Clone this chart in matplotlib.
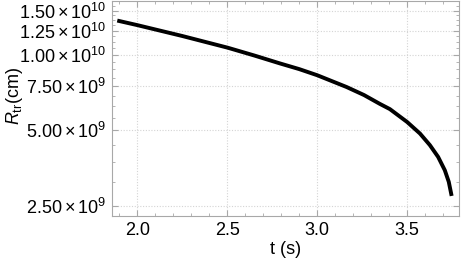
import numpy as np
import matplotlib.pyplot as plt
from matplotlib.ticker import FixedLocator, NullFormatter

plt.rcParams['font.family'] = ['Liberation Sans', 'DejaVu Sans']
plt.rcParams['mathtext.fontset'] = 'custom'
plt.rcParams['mathtext.rm'] = 'Liberation Sans'
plt.rcParams['mathtext.it'] = 'Liberation Sans:italic'

# values
t_vals = [1.889, 2.0, 2.25, 2.502, 2.65, 2.793, 2.9, 3.0, 3.163, 3.26, 3.348, 3.404, 3.5,
          3.571, 3.626, 3.672, 3.709, 3.731, 3.747]
r_vals = [1.371e10, 1.315e10, 1.19e10, 1.069e10, 9.95e9, 9.25e9, 8.78e9, 8.3e9, 7.45e9,
          6.92e9, 6.38e9, 6.08e9, 5.4e9, 4.86e9, 4.37e9, 3.92e9, 3.47e9, 3.12e9, 2.74e9]

y_ticks = [2.5e9, 5.0e9, 7.5e9, 1.0e10, 1.25e10, 1.5e10]
y_ticklabels = [r'$2.50\times10^{9}$', r'$5.00\times10^{9}$', r'$7.50\times10^{9}$',
                r'$1.00\times10^{10}$', r'$1.25\times10^{10}$', r'$1.50\times10^{10}$']
y_minor = [3.125e9, 3.75e9, 4.375e9, 5.625e9, 6.25e9, 6.875e9, 8.125e9, 8.75e9, 9.375e9,
           1.0625e10, 1.125e10, 1.1875e10, 1.3125e10, 1.375e10, 1.4375e10, 1.5625e10]
x_ticks = [2.0, 2.5, 3.0, 3.5]

fig = plt.figure(figsize=(4.63, 2.64), dpi=100)
ax = fig.add_axes([0.242, 0.182, 0.749, 0.814])

ax.plot(t_vals, r_vals, color='black', lw=2.8, solid_joinstyle='round', solid_capstyle='butt')
ax.set_yscale('log')
ax.set_xlim(1.86, 3.787)
ax.set_ylim(2.28e9, 1.64e10)

ax.yaxis.set_major_locator(FixedLocator(y_ticks))
ax.set_yticklabels(y_ticklabels)
ax.yaxis.set_minor_locator(FixedLocator(y_minor))
ax.yaxis.set_minor_formatter(NullFormatter())
ax.set_xticks(x_ticks)
ax.set_xticklabels(['2.0', '2.5', '3.0', '3.5'])
ax.set_xticks(np.arange(1.9, 3.8, 0.1), minor=True)

ax.grid(True, which='major', color='#d4d4d4', linestyle=(0, (1, 1.5)), linewidth=0.8)

for s in ax.spines.values():
    s.set_color('#a8a8a8')
    s.set_linewidth(0.8)
ax.tick_params(which='both', direction='in', color='#a8a8a8', top=True, right=True,
               labelsize=13, labelcolor='black')
ax.tick_params(which='major', length=4, pad=4)
ax.tick_params(which='minor', length=2)

ax.set_xlabel('t (s)', fontsize=13, labelpad=2)
ax.set_ylabel(r'$R_{\rm tr}$(cm)', fontsize=13)
ax.yaxis.set_label_coords(-0.25, 0.56)

fig.savefig('out.png', dpi=100)
